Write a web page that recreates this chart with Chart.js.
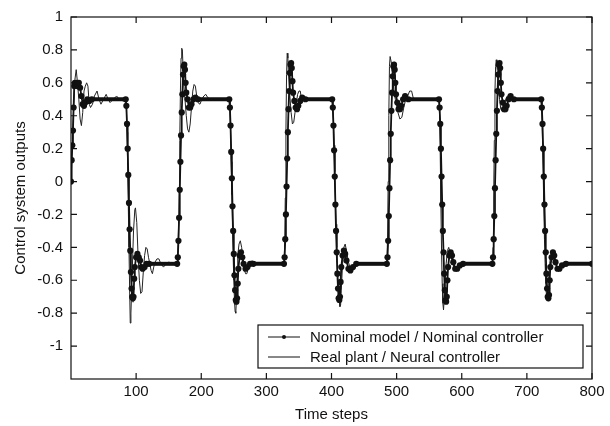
<!DOCTYPE html>
<html><head><meta charset="utf-8">
<script src="https://cdn.jsdelivr.net/npm/chart.js@4.4.1/dist/chart.umd.min.js"></script>
<style>html,body{margin:0;padding:0;background:#fff}#wrap{width:610px;height:426px}</style>
</head><body><div id="wrap"><canvas id="c" width="610" height="426"></canvas></div>
<script>
// ---- data ----
const xTickValues = [100, 200, 300, 400, 500, 600, 700, 800];
const yTickValues = [-1, -0.8, -0.6, -0.4, -0.2, 0, 0.2, 0.4, 0.6, 0.8, 1];

const nominalSteps = [
  0,1,2,3,4,5,6,8,10,12,14,16,18,20,22,25,28,32,84,
  85,86,87,88,89,90,91,92,93,94,95,96,97,98,100,102,104,106,108,110,113,116,120,163,
  164,165,166,167,168,169,170,171,172,173,174,175,176,177,179,181,183,185,188,191,195,243,
  244,245,246,247,248,249,250,251,252,253,254,255,256,257,259,261,263,265,268,271,275,280,327,
  328,329,330,331,332,333,334,335,336,337,338,339,340,341,343,345,347,349,352,355,360,401,
  402,403,404,405,406,407,408,409,410,411,412,413,414,415,417,419,421,423,426,429,433,438,485,
  486,487,488,489,490,491,492,493,494,495,496,497,498,499,501,503,505,507,510,513,518,565,
  566,567,568,569,570,571,572,573,574,575,576,577,578,579,581,583,585,587,590,593,597,602,647,
  648,649,650,651,652,653,654,655,656,657,658,659,660,661,663,665,667,669,672,675,680,722,
  723,724,725,726,727,728,729,730,731,732,733,734,735,736,738,740,742,744,747,750,754,760,800
];
const nominalValues = [
  0,0.13,0.22,0.31,0.45,0.58,0.6,0.6,0.58,0.6,0.57,0.52,0.47,0.46,0.48,0.5,0.49,0.5,0.5,
  0.46,0.35,0.2,0.04,-0.13,-0.29,-0.42,-0.55,-0.65,-0.7,-0.71,-0.7,-0.59,-0.52,-0.46,-0.44,-0.46,-0.48,-0.52,-0.53,-0.52,-0.5,-0.5,-0.5,
  -0.46,-0.36,-0.22,-0.05,0.12,0.28,0.42,0.53,0.65,0.7,0.71,0.68,0.6,0.54,0.5,0.45,0.45,0.47,0.5,0.51,0.5,0.5,
  0.45,0.34,0.18,0.02,-0.15,-0.3,-0.44,-0.57,-0.66,-0.72,-0.73,-0.71,-0.62,-0.53,-0.45,-0.43,-0.46,-0.5,-0.53,-0.52,-0.5,-0.5,-0.5,
  -0.46,-0.35,-0.2,-0.03,0.14,0.3,0.44,0.55,0.66,0.71,0.72,0.69,0.61,0.54,0.49,0.45,0.44,0.46,0.49,0.51,0.5,0.5,
  0.45,0.34,0.19,0.03,-0.14,-0.3,-0.43,-0.56,-0.65,-0.71,-0.72,-0.7,-0.61,-0.52,-0.45,-0.42,-0.44,-0.48,-0.53,-0.54,-0.52,-0.5,-0.5,
  -0.46,-0.36,-0.21,-0.04,0.13,0.29,0.43,0.54,0.64,0.7,0.71,0.68,0.6,0.53,0.48,0.44,0.44,0.46,0.5,0.52,0.5,0.5,
  0.45,0.35,0.2,0.03,-0.14,-0.3,-0.43,-0.56,-0.66,-0.72,-0.73,-0.7,-0.6,-0.52,-0.45,-0.43,-0.45,-0.49,-0.53,-0.53,-0.51,-0.5,-0.5,
  -0.46,-0.35,-0.21,-0.04,0.13,0.29,0.43,0.55,0.65,0.71,0.72,0.69,0.6,0.53,0.48,0.44,0.44,0.46,0.5,0.52,0.5,0.5,
  0.45,0.35,0.2,0.03,-0.14,-0.3,-0.43,-0.56,-0.65,-0.7,-0.71,-0.69,-0.6,-0.52,-0.46,-0.43,-0.45,-0.49,-0.53,-0.53,-0.51,-0.5,-0.5
];

const plantSteps = [
  0,2,4,6,8,10,12,14,16,18,20,22,24,26,28,30,33,36,40,43,46,50,54,57,60,65,70,74,80,84,
  85,86,87,88,89,90,91,92,94,96,98,99,101,103,105,107,109,111,113,115,117,119,121,123,125,127,129,132,135,138,142,146,150,163,
  164,165,166,167,168,169,170,171,172,173,175,177,179,181,183,185,187,189,191,193,195,198,201,204,207,210,214,243,
  244,245,246,247,248,249,250,251,252,253,254,255,256,258,260,262,264,266,268,270,272,275,278,282,327,
  328,329,330,331,332,333,334,336,338,340,342,344,346,348,350,352,354,356,360,401,
  402,403,404,405,406,407,408,409,410,411,412,413,414,415,417,419,421,423,426,429,432,436,440,485,
  486,487,488,489,490,492,494,496,498,500,502,505,508,511,514,517,520,523,526,530,565,
  566,567,568,569,570,571,572,573,574,576,578,580,582,585,588,591,595,600,647,
  648,649,650,651,652,653,654,656,658,660,662,664,667,670,674,680,722,
  723,724,725,726,727,728,729,730,731,732,733,735,737,739,741,744,747,750,754,760,800
];
const plantValues = [
  0,0.2,0.45,0.62,0.68,0.6,0.5,0.38,0.34,0.42,0.55,0.58,0.6,0.58,0.47,0.45,0.47,0.52,0.55,0.5,0.47,0.5,0.53,0.5,0.48,0.5,0.52,0.5,0.49,0.5,
  0.45,0.3,0.1,-0.15,-0.4,-0.65,-0.86,-0.8,-0.55,-0.3,-0.17,-0.16,-0.25,-0.45,-0.6,-0.68,-0.67,-0.55,-0.45,-0.4,-0.41,-0.46,-0.5,-0.54,-0.56,-0.52,-0.49,-0.47,-0.47,-0.5,-0.52,-0.5,-0.49,-0.5,
  -0.45,-0.3,-0.05,0.25,0.55,0.75,0.81,0.8,0.7,0.6,0.5,0.4,0.32,0.3,0.35,0.45,0.55,0.59,0.58,0.52,0.48,0.47,0.5,0.52,0.53,0.51,0.5,0.5,
  0.45,0.3,0.12,-0.08,-0.28,-0.46,-0.6,-0.72,-0.79,-0.8,-0.72,-0.58,-0.45,-0.38,-0.36,-0.4,-0.47,-0.53,-0.56,-0.56,-0.53,-0.5,-0.48,-0.5,-0.5,
  -0.4,-0.1,0.3,0.65,0.78,0.75,0.65,0.52,0.42,0.35,0.36,0.42,0.48,0.53,0.55,0.55,0.5,0.49,0.5,0.5,
  0.45,0.36,0.22,0.06,-0.1,-0.26,-0.4,-0.52,-0.62,-0.69,-0.73,-0.76,-0.75,-0.66,-0.5,-0.4,-0.38,-0.42,-0.49,-0.53,-0.53,-0.51,-0.5,-0.5,
  -0.35,0.0,0.4,0.7,0.76,0.72,0.62,0.55,0.5,0.46,0.42,0.38,0.39,0.45,0.5,0.52,0.55,0.55,0.5,0.5,0.5,
  0.4,0.15,-0.15,-0.42,-0.62,-0.74,-0.78,-0.72,-0.62,-0.5,-0.42,-0.4,-0.43,-0.48,-0.52,-0.53,-0.51,-0.5,-0.5,
  -0.4,-0.1,0.25,0.55,0.7,0.74,0.7,0.6,0.5,0.44,0.43,0.45,0.49,0.52,0.51,0.5,0.5,
  0.42,0.25,0.05,-0.15,-0.35,-0.5,-0.62,-0.69,-0.72,-0.7,-0.62,-0.5,-0.44,-0.43,-0.45,-0.5,-0.53,-0.53,-0.51,-0.5,-0.5
];

const seriesLabels = ['Nominal model / Nominal controller', 'Real plant / Neural controller'];
const xTitle = 'Time steps';
const yTitle = 'Control system outputs';

// ---- chart ----
const FONT = 'Liberation Sans, Arial, Helvetica, sans-serif';
const INK = '#111';
const toPts = (xs, ys) => xs.map((x, i) => ({x: x, y: ys[i]}));

const framePlugin = {
  id: 'frame',
  afterDatasetsDraw(chart) {
    const {ctx, chartArea: a, scales: {x, y}} = chart;
    ctx.save();
    ctx.strokeStyle = INK;
    ctx.lineWidth = 1.2;
    ctx.strokeRect(a.left, a.top, a.right - a.left, a.bottom - a.top);
    ctx.beginPath();
    const L = 6;
    xTickValues.forEach(v => {
      const p = x.getPixelForValue(v);
      ctx.moveTo(p, a.bottom); ctx.lineTo(p, a.bottom - L);
      ctx.moveTo(p, a.top); ctx.lineTo(p, a.top + L);
    });
    yTickValues.forEach(v => {
      const p = y.getPixelForValue(v);
      ctx.moveTo(a.left, p); ctx.lineTo(a.left + L, p);
      ctx.moveTo(a.right, p); ctx.lineTo(a.right - L, p);
    });
    ctx.stroke();

    // legend box
    const bx = a.left + 187, by = a.bottom - 54, bw = 325, bh = 43;
    ctx.fillStyle = '#fff';
    ctx.fillRect(bx, by, bw, bh);
    ctx.lineWidth = 1.2;
    ctx.strokeRect(bx, by, bw, bh);
    ctx.font = '15px ' + FONT;
    ctx.fillStyle = INK;
    ctx.textBaseline = 'middle';
    ctx.textAlign = 'left';
    const rows = [by + 12, by + 32];
    ctx.lineWidth = 1;
    rows.forEach((ry, i) => {
      ctx.beginPath();
      ctx.moveTo(bx + 10, ry); ctx.lineTo(bx + 42, ry);
      ctx.stroke();
      if (i === 0) {
        ctx.beginPath();
        ctx.arc(bx + 26, ry, 2, 0, Math.PI * 2);
        ctx.fill();
      }
      ctx.fillText(chart.data.datasets[i].label, bx + 52, ry + 1);
    });
    ctx.restore();
  }
};

new Chart(document.getElementById('c'), {
  type: 'line',
  data: {
    datasets: [
      {
        label: seriesLabels[0],
        data: toPts(nominalSteps, nominalValues),
        borderColor: INK,
        backgroundColor: INK,
        borderWidth: 1.8,
        pointRadius: 3.1,
        pointBorderWidth: 0,
        pointBackgroundColor: INK,
        tension: 0,
        order: 0,
        segment: {
          borderWidth: c => {
            const y0 = c.p0.parsed.y, y1 = c.p1.parsed.y;
            return (Math.abs(Math.abs(y0) - 0.5) < 0.015 && Math.abs(Math.abs(y1) - 0.5) < 0.015 && Math.abs(y0 - y1) < 0.03) ? 4 : 1.8;
          }
        }
      },
      {
        label: seriesLabels[1],
        data: toPts(plantSteps, plantValues),
        borderColor: '#222',
        borderWidth: 1,
        pointRadius: 0,
        tension: 0,
        order: 1
      }
    ]
  },
  options: {
    responsive: false,
    animation: false,
    layout: {padding: {left: 0, right: 18, top: 14, bottom: 0}},
    plugins: {legend: {display: false}, tooltip: {enabled: false}},
    scales: {
      x: {
        type: 'linear',
        min: 0, max: 800,
        afterBuildTicks: s => { s.ticks = xTickValues.map(v => ({value: v})); },
        afterFit: s => { s.height = 47; },
        grid: {display: false, drawTicks: false},
        border: {display: false},
        ticks: {color: INK, font: {family: FONT, size: 15}, padding: 4, maxRotation: 0,
                callback: v => String(v)},
        title: {display: true, text: xTitle, color: INK, font: {family: FONT, size: 15}, padding: {top: 0, bottom: 2}}
      },
      y: {
        type: 'linear',
        min: -1.2, max: 1,
        afterBuildTicks: s => { s.ticks = yTickValues.map(v => ({value: v})); },
        afterFit: s => { s.width = 71; },
        grid: {display: false, drawTicks: false},
        border: {display: false},
        ticks: {color: INK, font: {family: FONT, size: 15}, padding: 8,
                callback: v => String(Math.round(v * 10) / 10)},
        title: {display: true, text: yTitle, color: INK, font: {family: FONT, size: 15}, padding: {top: 12, bottom: 0}}
      }
    }
  },
  plugins: [framePlugin]
});
</script>
</body></html>
